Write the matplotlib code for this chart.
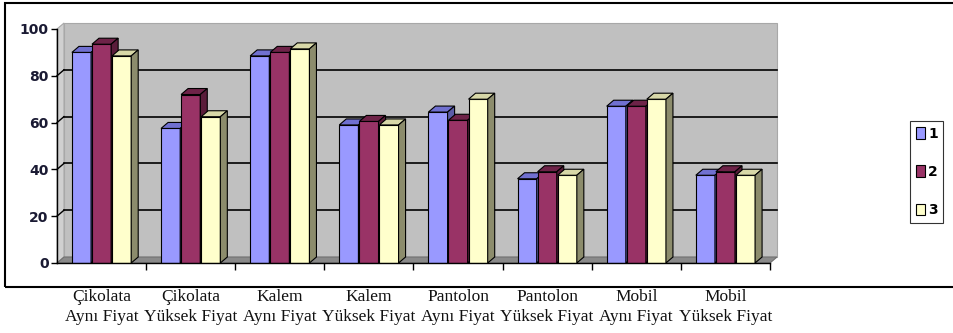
import matplotlib.pyplot as plt
import matplotlib.transforms as mtransforms
from matplotlib.patches import Polygon, Rectangle, Patch

categories = ["Çikolata\nAynı Fiyat", "Çikolata\nYüksek Fiyat", "Kalem\nAynı Fiyat",
              "Kalem\nYüksek Fiyat", "Pantolon\nAynı Fiyat", "Pantolon\nYüksek Fiyat",
              "Mobil\nAynı Fiyat", "Mobil\nYüksek Fiyat"]
series_names = ["1", "2", "3"]
s1 = [90, 57.5, 88.5, 59, 64.5, 36, 67, 37.5]
s2 = [93.5, 72, 90, 60.5, 61, 39, 67, 39]
s3 = [88.5, 62.5, 91.5, 59, 70, 37.5, 70, 37.5]
yticks = [0, 20, 40, 60, 80, 100]

front = ["#9999FF", "#993366", "#FFFFCC"]
top = ["#7070D0", "#6E2348", "#D8D8A8"]
side = ["#5C5CA8", "#5A1C3A", "#8C8C6C"]

fig = plt.figure(figsize=(9.54, 3.33), dpi=100)
W, H = 954, 333
ax = fig.add_axes([57 / W, (H - 263) / H, (770 - 57) / W, (263 - 29) / H])
ax.set_xlim(-0.5, len(categories) - 0.5)
ax.set_ylim(0, 100)
ax.set_facecolor("none")

# depth of the fake 3d effect, in data units
dx = 7 / 89.1
dy = 6 / 2.34
x0, x1 = -0.5, len(categories) - 0.5

# back wall, side wall, floor
ax.add_patch(Rectangle((x0 + dx, dy), x1 - x0, 100, facecolor="#C0C0C0",
                       edgecolor="#A8A8A8", lw=0.8, clip_on=False, zorder=0))
ax.add_patch(Polygon([(x0, 0), (x0 + dx, dy), (x0 + dx, 100 + dy), (x0, 100)],
                     facecolor="#D0D0D0", edgecolor="#A8A8A8", lw=0.8, clip_on=False, zorder=0))
ax.add_patch(Polygon([(x0, 0), (x1, 0), (x1 + dx, dy), (x0 + dx, dy)],
                     facecolor="#8A8A8A", edgecolor="#707070", lw=0.8, clip_on=False, zorder=0))
for v in yticks[1:-1]:
    ax.plot([x0 + dx, x1 + dx], [v + dy, v + dy], color="black", lw=1.2, clip_on=False, zorder=1)
    ax.plot([x0, x0 + dx], [v, v + dy], color="black", lw=1.0, clip_on=False, zorder=1)

width = 0.215
pitch = 0.225
for i, vals in enumerate([s1, s2, s3]):
    pos = [k + (i - 1) * pitch for k in range(len(categories))]
    bars = ax.bar(pos, vals, width=width, color=front[i], edgecolor="black", lw=0.8, zorder=3)
    for b in bars:
        bx, bw, bh = b.get_x(), b.get_width(), b.get_height()
        ax.add_patch(Polygon([(bx, bh), (bx + bw, bh), (bx + bw + dx, bh + dy), (bx + dx, bh + dy)],
                             facecolor=top[i], edgecolor="black", lw=0.8, clip_on=False, zorder=3))
        ax.add_patch(Polygon([(bx + bw, 0), (bx + bw + dx, dy), (bx + bw + dx, bh + dy), (bx + bw, bh)],
                             facecolor=side[i], edgecolor="black", lw=0.8, clip_on=False, zorder=3))

for s in ["top", "right"]:
    ax.spines[s].set_visible(False)
ax.spines["left"].set_linewidth(1.0)
ax.spines["bottom"].set_linewidth(1.0)
ax.spines["left"].set_zorder(4)
ax.spines["bottom"].set_zorder(4)
ax.set_yticks(yticks)
ax.set_yticklabels([str(v) for v in yticks], fontsize=10, fontweight="bold",
                   family="DejaVu Sans", color="#1A1A33")
ax.tick_params(axis="y", length=4, width=1, pad=2)
ax.set_xticks([k + 0.5 for k in range(len(categories))])
ax.set_xticklabels([])
ax.tick_params(axis="x", length=5, width=1, direction="out")

trans = mtransforms.blended_transform_factory(ax.transData, fig.transFigure)
for k, lab in enumerate(categories):
    ax.text(k, (H - 289) / H, lab, transform=trans, ha="center", va="top",
            fontsize=12.5, family="Liberation Serif", linespacing=1.35, color="#111111")

# outer frame
fig.add_artist(Rectangle((5 / W, (H - 287) / H), 1.2, (287 - 3) / H, transform=fig.transFigure,
                         fill=False, edgecolor="black", lw=1.5))

handles = [Patch(facecolor=c, edgecolor="black", lw=0.8) for c in front]
leg = fig.legend(handles, series_names, loc="upper left",
                 bbox_to_anchor=(910 / W, (H - 121) / H), frameon=True, fancybox=False,
                 edgecolor="black", handlelength=0.7, handleheight=0.9, handletextpad=0.2,
                 labelspacing=1.75, borderpad=0.4, borderaxespad=0,
                 prop={"family": "DejaVu Sans", "weight": "bold", "size": 10})
leg.get_frame().set_linewidth(0.8)

fig.savefig("out.png", dpi=100)
